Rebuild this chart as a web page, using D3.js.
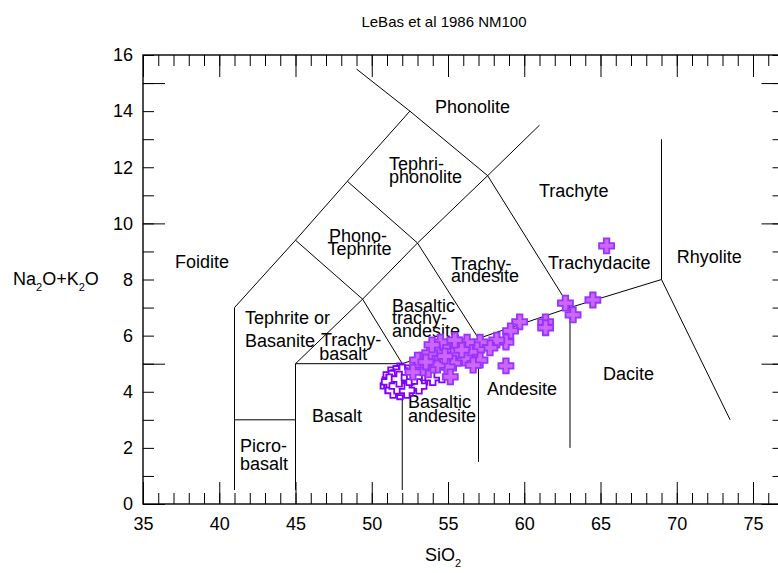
<!DOCTYPE html>
<html>
<head>
<meta charset="utf-8">
<script src="https://cdn.jsdelivr.net/npm/d3@7"></script>
<style>
  html, body { margin: 0; padding: 0; background: #fff; }
  svg { display: block; font-family: "Liberation Sans", Arial, Helvetica, sans-serif; }
</style>
</head>
<body>
<svg id="chart" width="778" height="573"></svg>
<script>
// Total alkali vs silica (TAS) classification, Le Bas et al. 1986

const xTickLabels = [35, 40, 45, 50, 55, 60, 65, 70, 75];
const yTickLabels = [0, 2, 4, 6, 8, 10, 12, 14, 16];

// Sample series A (hollow markers): SiO2 and Na2O+K2O, wt%
const silicaA = [51.2, 51.72, 51.52, 52.05, 52.38, 52.64, 53.16, 52.97, 51.39, 51.85, 52.18, 52.51, 51.85, 51.07, 51.59, 51.98, 51.26, 53.36, 53.1, 53.4, 54.0, 54.6,
  51.3, 51.45, 51.6, 51.75, 51.9, 52.1, 52.25, 51.15, 51.4, 52.0, 52.3, 51.65, 51.8, 52.45, 52.8];
const alkaliA = [4.42, 4.53, 4.13, 4.24, 4.67, 4.35, 4.35, 4.78, 4.31, 4.0, 4.49, 4.13, 4.74, 4.21, 4.38, 4.45, 4.6, 4.53, 4.2, 4.67, 4.5, 4.6,
  4.25, 4.5, 4.65, 4.3, 4.15, 4.55, 4.35, 4.35, 4.05, 4.7, 4.05, 4.2, 4.45, 4.5, 4.55];

// Sample series B (filled markers)
const silicaB = [65.4, 64.5, 62.7, 63.2, 61.4, 61.4, 59.7, 59.1, 58.8, 58.8, 58.2, 57.75, 57.1, 56.9, 57.1, 56.45, 56.25, 56.1, 56.65, 55.35, 55.35, 54.65, 54.5, 54.95, 54.3, 53.7, 53.35, 53.3, 54.3, 53.8, 53.95, 55.15, 55.65, 54.8, 55.9, 55.45, 53.0, 53.55, 52.7];
const alkaliB = [9.2, 7.27, 7.16, 6.74, 6.49, 6.28, 6.49, 6.17, 5.77, 4.92, 5.84, 5.56, 5.77, 5.49, 5.13, 5.42, 5.77, 5.2, 4.95, 5.31, 5.02, 5.6, 5.77, 4.88, 4.95, 4.78, 4.85, 5.13, 5.38, 5.38, 5.67, 4.53, 5.67, 5.27, 5.49, 5.84, 5.13, 5.06, 4.7];

// Field boundaries (SiO2, Na2O+K2O)
const boundaries = [
  [[41, 0.5], [41, 7], [45, 9.4], [48.4, 11.5], [52.5, 14]],
  [[49, 15.5], [52.5, 14], [57.6, 11.7], [63, 7]],
  [[57.6, 11.7], [61, 13.5]],
  [[41, 3], [45, 3]],
  [[45, 0.5], [45, 5], [49.4, 7.3], [53, 9.3], [57.6, 11.7]],
  [[45, 5], [52, 5]],
  [[45, 9.4], [49.4, 7.3], [52, 5], [52, 0.5]],
  [[48.4, 11.5], [53, 9.3], [57, 5.9], [57, 1.5]],
  [[52, 5], [57, 5.9], [63, 7], [69, 8], [73.5, 3]],
  [[63, 7], [63, 2]],
  [[69, 8], [69, 13]]
];

// Field names: text line, left SiO2, baseline Na2O+K2O
const fieldText = ["Foidite", "Phonolite", "Tephri-", "phonolite", "Trachyte", "Phono-", "Tephrite",
  "Trachy-", "andesite", "Trachydacite", "Rhyolite", "Tephrite or", "Basanite",
  "Basaltic", "trachy-", "andesite", "Trachy-", "basalt", "Basalt", "Basaltic", "andesite",
  "Andesite", "Dacite", "Picro-", "basalt"];
const fieldSilica = [37.1, 54.15, 51.13, 51.13, 60.97, 47.2, 47.1,
  55.2, 55.2, 61.56, 70.0, 41.69, 41.69,
  51.33, 51.33, 51.33, 46.67, 46.55, 46.08, 52.38, 52.38,
  57.56, 65.16, 41.36, 41.36];
const fieldAlkali = [8.41, 13.93, 11.9, 11.44, 10.94, 9.34, 8.87,
  8.34, 7.91, 8.37, 8.59, 6.41, 5.6,
  6.84, 6.4, 5.95, 5.63, 5.13, 2.92, 3.42, 2.92,
  3.88, 4.42, 1.85, 1.21];

const svg = d3.select("#chart");

const x = d3.scaleLinear().domain([35, 77]).range([143, 783.5]);
const y = d3.scaleLinear().domain([0, 16]).range([504, 55]);

const minorX = d3.range(35, 78, 1);
const majorX = d3.range(35, 78, 5);
const minorY = d3.range(0, 17, 1);
const majorY = d3.range(0, 17, 5);

function tickAxis(axisFn, scale, values, size) {
  return axisFn(scale).tickValues(values).tickSize(size).tickFormat("");
}

const axes = svg.append("g").attr("class", "axes");

// bottom: ticks point up into the plot
axes.append("g").attr("transform", `translate(0,${y(0)})`).call(tickAxis(d3.axisTop, x, minorX, 11));
axes.append("g").attr("transform", `translate(0,${y(0)})`).call(tickAxis(d3.axisTop, x, majorX, 22));
// top: ticks point down
axes.append("g").attr("transform", `translate(0,${y(16)})`).call(tickAxis(d3.axisBottom, x, minorX, 11));
axes.append("g").attr("transform", `translate(0,${y(16)})`).call(tickAxis(d3.axisBottom, x, majorX, 22));
// left: ticks point right
axes.append("g").attr("transform", `translate(${x(35)},0)`).call(tickAxis(d3.axisRight, y, minorY, 11));
axes.append("g").attr("transform", `translate(${x(35)},0)`).call(tickAxis(d3.axisRight, y, majorY, 22));
// right: ticks point left
axes.append("g").attr("transform", `translate(${x(77)},0)`).call(tickAxis(d3.axisLeft, y, minorY, 11));
axes.append("g").attr("transform", `translate(${x(77)},0)`).call(tickAxis(d3.axisLeft, y, majorY, 22));

axes.selectAll(".domain").remove();
axes.selectAll(".tick line").attr("stroke", "#000").attr("stroke-width", 1);

// frame
svg.append("rect")
  .attr("x", x(35)).attr("y", y(16))
  .attr("width", x(77) - x(35)).attr("height", y(0) - y(16))
  .attr("fill", "none").attr("stroke", "#000").attr("stroke-width", 1.4);

// tick labels
const xLab = svg.append("g").attr("transform", `translate(0,${y(0)})`)
  .call(d3.axisBottom(x).tickValues(xTickLabels).tickSize(0).tickPadding(10));
const yLab = svg.append("g").attr("transform", `translate(${x(35)},0)`)
  .call(d3.axisLeft(y).tickValues(yTickLabels).tickSize(0).tickPadding(10));
[xLab, yLab].forEach(g => {
  g.select(".domain").remove();
  g.selectAll("text").attr("font-size", 18).attr("font-family", "Liberation Sans, Arial, sans-serif").attr("fill", "#000");
});
xLab.selectAll("text").attr("dy", "0.9em");

// field boundaries
const line = d3.line().x(d => x(d[0])).y(d => y(d[1]));
svg.append("g").selectAll("path").data(boundaries).join("path")
  .attr("d", line).attr("fill", "none").attr("stroke", "#000").attr("stroke-width", 1);

// field names
svg.append("g").selectAll("text").data(fieldText).join("text")
  .attr("x", (d, i) => x(fieldSilica[i]))
  .attr("y", (d, i) => y(fieldAlkali[i]))
  .attr("font-size", 18).attr("fill", "#000")
  .text(d => d);

// plus-shaped marker
const s = 7.5, a = 2.75;
const plus = `M${-a},${-s}H${a}V${-a}H${s}V${a}H${a}V${s}H${-a}V${a}H${-s}V${-a}H${-a}Z`;

svg.append("g").selectAll("path").data(silicaA).join("path")
  .attr("d", plus)
  .attr("transform", (d, i) => `translate(${x(d)},${y(alkaliA[i])})`)
  .attr("fill", "#fff").attr("stroke", "#8000ff").attr("stroke-width", 1.8);

svg.append("g").selectAll("path").data(silicaB).join("path")
  .attr("d", plus)
  .attr("transform", (d, i) => `translate(${x(d)},${y(alkaliB[i])})`)
  .attr("fill", "#cc66ff").attr("stroke", "#9933ff").attr("stroke-width", 1.8);

// title
svg.append("text").attr("x", 444).attr("y", 27).attr("text-anchor", "middle")
  .attr("font-size", 15).text("LeBas et al 1986 NM100");

// axis titles
const xt = svg.append("text").attr("x", 425).attr("y", 561).attr("font-size", 18);
xt.append("tspan").text("SiO");
xt.append("tspan").attr("font-size", 11).attr("dy", 6).text("2");

const yt = svg.append("text").attr("x", 13).attr("y", 285).attr("font-size", 18);
yt.append("tspan").text("Na");
yt.append("tspan").attr("font-size", 11).attr("dy", 6).text("2");
yt.append("tspan").attr("dy", -6).text("O+K");
yt.append("tspan").attr("font-size", 11).attr("dy", 6).text("2");
yt.append("tspan").attr("dy", -6).text("O");
</script>
</body>
</html>
